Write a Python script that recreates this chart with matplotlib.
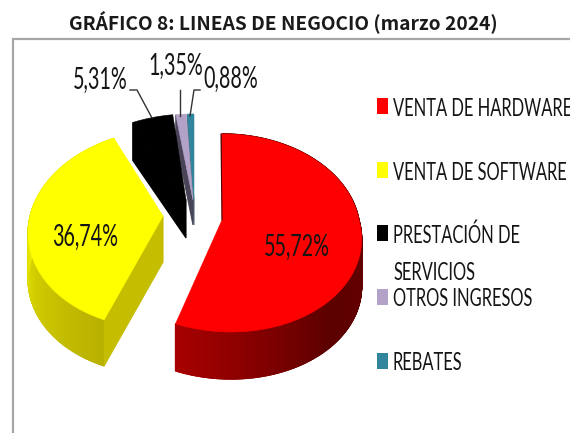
import numpy as np
import matplotlib
matplotlib.use("Agg")
import matplotlib.pyplot as plt
from matplotlib.patches import Polygon, Rectangle
from matplotlib.collections import PolyCollection
from matplotlib.colors import to_rgb
from matplotlib import font_manager as fm

# ---- data ----
categories = ["VENTA DE HARDWARE", "VENTA DE SOFTWARE", "PRESTACIÓN DE\nSERVICIOS", "OTROS INGRESOS", "REBATES"]
shares = [55.72, 36.74, 5.31, 1.35, 0.88]
colors = ["#ff0000", "#ffff00", "#000000", "#b3a2c7", "#31859c"]
title = "GRÁFICO 8: LINEAS DE NEGOCIO (marzo 2024)"


def condensed_font(family, sx, out):
    """Horizontally condensed copy of an installed font, so labels stay real text."""
    try:
        from fontTools.ttLib import TTFont
        f = TTFont(fm.findfont(family))
        glyf = f["glyf"]
        for name in glyf.keys():
            g = glyf[name]
            if g.isComposite():
                for c in g.components:
                    c.x = int(round(c.x * sx))
            elif g.numberOfContours > 0:
                for k, (px, py) in enumerate(g.coordinates):
                    g.coordinates[k] = (int(round(px * sx)), py)
            g.recalcBounds(glyf)
        hm = f["hmtx"].metrics
        for name, (adv, lsb) in list(hm.items()):
            hm[name] = (int(round(adv * sx)), int(round(lsb * sx)))
        f.save(out)
        return fm.FontProperties(fname=out)
    except Exception:
        return fm.FontProperties(family=family)


FP = condensed_font("Lato", 0.66, "lato_cond.ttf")
LEG = 18
NUM = 21.5
TXT = "#151515"

# ---- layout (pixel space) ----
RX, RY, K = 139.0, 97.3, 0.131
apex = [(222, 220), (163, 216), (186, 200), (193, 200), (194, 200)]
depth = [47, 46, 38, 25, 25]
shear = [(0, -9), (6, 6), (4, 0), (0, 0), (0, 0)]
rx_scale = [0.985, 0.955, 1.0, 1.0, 1.0]
side = ["#000000", "#c4bd00", "#000000", "#4a4458", "#5a6a78"]
wall_grad = {0: ([95, 140, 175, 201], ["#660000", "#5c0000", "#8a0000", "#a80000"]),
             1: ([201, 240, 278], ["#b8b000", "#cfca00", "#eeee00"])}
label_pos = [(297, 247), (85, 237), (100, 80), (176, 66), (231, 79)]
legend_y = [106, 170, 233, 297, 361]
legend_text_dy = 2

fig = plt.figure(figsize=(5.7, 4.33), dpi=100)
ax = fig.add_axes([0, 0, 1, 1])
ax.set_xlim(0, 570)
ax.set_ylim(433, 0)
ax.axis("off")

ax.plot([13, 13, 570], [433, 39, 39], color="#a6a6a6", lw=1.6, solid_joinstyle="miter", zorder=1)


def rim(i, th):
    t = np.radians(th)
    X, Y = np.sin(t), np.cos(t)
    s = 1 / (1 + K * Y)
    up, dn = shear[i]
    return (apex[i][0] + RX * rx_scale[i] * X * s + up * np.maximum(Y, 0) + dn * np.minimum(Y, 0),
            apex[i][1] - RY * Y * s)


edges = np.concatenate([[0], np.cumsum(shares)]) / sum(shares) * 360


def draw(i, z):
    a, b = edges[i], edges[i + 1]
    th = np.linspace(a, b, max(int(b - a) * 4, 12))
    x, y = rim(i, th)
    d = depth[i]
    ax0, ay0 = apex[i]
    if i in wall_grad:
        ts, cs = wall_grad[i]
        rgb = np.array([to_rgb(c) for c in cs])
        quads, fc = [], []
        for j in range(len(th) - 1):
            quads.append([(x[j], y[j]), (x[j + 1], y[j + 1]), (x[j + 1], y[j + 1] + d), (x[j], y[j] + d)])
            m = (th[j] + th[j + 1]) / 2
            fc.append([np.interp(m, ts, rgb[:, k]) for k in range(3)])
        ax.add_collection(PolyCollection(quads, facecolors=fc, edgecolors=fc, linewidths=1.0, zorder=z))
    if i != 0:
        cx, cy = rim(i, a)
        ax.add_patch(Polygon([(cx, cy), (ax0, ay0), (ax0, ay0 + d), (cx, cy + d)],
                             fc=side[i], ec=side[i], lw=0.8, zorder=z + 0.1))
    ax.add_patch(Polygon(np.r_[[(ax0, ay0)], np.c_[x, y]], closed=True, fc=colors[i], ec=colors[i],
                         lw=0.4, zorder=z + 0.2))


for order, i in enumerate([4, 3, 2, 1, 0]):
    draw(i, 2 + order)
ax.plot([221, 222], [134, 220], color="#500000", lw=0.8, zorder=8)

for i, v in enumerate(shares):
    ax.text(label_pos[i][0], label_pos[i][1], f"{v:.2f}%".replace(".", ","), fontproperties=FP,
            fontsize=NUM, color=TXT, ha="center", va="center", zorder=10)

lead = dict(color="#333333", lw=1.0, zorder=9)
ax.plot([130, 137, 152], [90, 90, 118], **lead)
ax.plot([180, 180], [90, 116], **lead)
ax.plot([200, 194, 190], [90, 90, 116], **lead)

for i, cat in enumerate(categories):
    ax.add_patch(Rectangle((377, legend_y[i] - 8), 11, 16, fc=colors[i], ec="none", zorder=5))
    for n, line in enumerate(cat.split("\n")):
        ax.text(393, legend_y[i] + legend_text_dy + n * 38, line, fontproperties=FP, fontsize=LEG, color=TXT,
                va="center", clip_on=True)

ax.text(283, 22, title, family=["Noto Sans CJK JP", "DejaVu Sans"], fontweight="bold", fontsize=13.8,
        color="#1a1a1a", ha="center", va="center")

fig.savefig("out.png", dpi=100)
